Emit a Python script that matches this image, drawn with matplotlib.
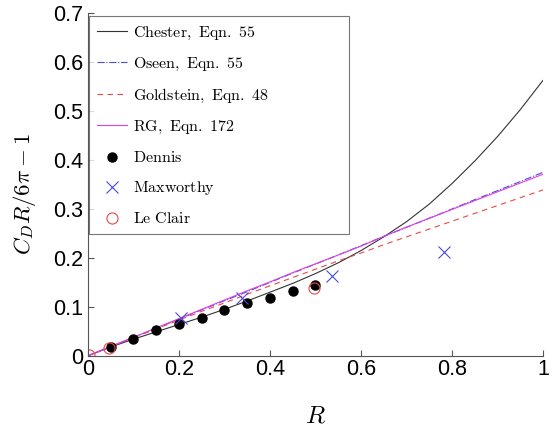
import matplotlib
matplotlib.use('Agg')
import matplotlib.pyplot as plt

plt.rcParams['mathtext.fontset'] = 'cm'
plt.rcParams['font.family'] = ['Liberation Sans', 'DejaVu Sans']

# Theory curves, sampled along R
R_curve = [0.0, 0.05, 0.1, 0.15, 0.2, 0.25, 0.3, 0.35, 0.4, 0.45, 0.5,
           0.55, 0.6, 0.65, 0.7, 0.75, 0.8, 0.85, 0.9, 0.95, 1.0]
chester = [0.0, 0.018, 0.034, 0.049, 0.064, 0.079, 0.095, 0.112, 0.130, 0.148, 0.168,
           0.190, 0.215, 0.243, 0.274, 0.310, 0.352, 0.398, 0.448, 0.503, 0.563]
oseen = [0.0, 0.019, 0.0375, 0.056, 0.075, 0.094, 0.1125, 0.131, 0.150, 0.169, 0.1875,
         0.206, 0.225, 0.244, 0.2625, 0.281, 0.300, 0.319, 0.3375, 0.356, 0.375]
goldstein = [0.0, 0.019, 0.037, 0.055, 0.073, 0.091, 0.108, 0.126, 0.143, 0.160, 0.177,
             0.194, 0.210, 0.227, 0.243, 0.259, 0.275, 0.291, 0.307, 0.323, 0.339]
rg = [0.0, 0.019, 0.038, 0.057, 0.076, 0.095, 0.114, 0.133, 0.151, 0.170, 0.188,
      0.206, 0.224, 0.244, 0.263, 0.281, 0.299, 0.317, 0.335, 0.353, 0.371]

# Measurements
R_dennis = [0.05, 0.1, 0.15, 0.2, 0.25, 0.3, 0.35, 0.4, 0.45, 0.5]
dennis = [0.019, 0.035, 0.052, 0.065, 0.078, 0.094, 0.107, 0.119, 0.133, 0.145]

R_maxworthy = [0.204, 0.338, 0.537, 0.782]
maxworthy = [0.077, 0.118, 0.163, 0.212]

R_leclair = [0.003, 0.047, 0.497]
leclair = [0.001, 0.016, 0.138]

fig = plt.figure(figsize=(5.52, 4.34), dpi=100)
ax = fig.add_axes([0.159, 0.18, 0.825, 0.79])

ax.plot(R_curve, chester, color='#333333', lw=0.8, label=r'$\mathrm{Chester,\ Eqn.\ 55}$')
ax.plot(R_curve, oseen, color='#4a4ae0', lw=0.8, ls='-.', label=r'$\mathrm{Oseen,\ Eqn.\ 55}$')
ax.plot(R_curve, goldstein, color='#e84848', lw=0.8, ls=(0, (5, 4)), label=r'$\mathrm{Goldstein,\ Eqn.\ 48}$')
ax.plot(R_curve, rg, color='#e040e0', lw=0.8, label=r'$\mathrm{RG,\ Eqn.\ 172}$')
ax.plot(R_dennis, dennis, 'o', color='black', ms=6.5, label=r'$\mathrm{Dennis}$')
ax.plot(R_maxworthy, maxworthy, 'x', color='#4a4ae0', ms=9, mew=0.8, label=r'$\mathrm{Maxworthy}$')
ax.plot(R_leclair, leclair, 'o', mfc='none', mec='#e84848', ms=8, mew=0.8, label=r'$\mathrm{Le\ Clair}$')

ax.set_xlim(0, 1)
ax.set_ylim(0, 0.7)
ax.set_xticks([0, 0.2, 0.4, 0.6, 0.8, 1])
ax.set_xticklabels(['0', '0.2', '0.4', '0.6', '0.8', '1'])
ax.set_yticks([0, 0.1, 0.2, 0.3, 0.4, 0.5, 0.6, 0.7])
ax.set_yticklabels(['0', '0.1', '0.2', '0.3', '0.4', '0.5', '0.6', '0.7'])
ax.tick_params(direction='in', length=4, width=0.8, color='#555555', labelsize=15.5)
ax.tick_params(axis='x', pad=2)
ax.tick_params(axis='y', pad=3)

for side in ['top', 'right']:
    ax.spines[side].set_visible(False)
for side in ['left', 'bottom']:
    ax.spines[side].set_color('#555555')
    ax.spines[side].set_linewidth(0.8)

ax.set_xlabel(r'$R$', fontsize=18, labelpad=17)
ax.set_ylabel(r'$C_D R/6\pi - 1$', fontsize=16.5)
ax.yaxis.set_label_coords(-0.11, 0.472)

leg = ax.legend(loc='upper left', bbox_to_anchor=(0.002, 0.99, 0.572, 0.0), mode='expand',
                fontsize=11.5, frameon=True, fancybox=False, borderpad=0.5,
                labelspacing=0.88, handlelength=1.9, handletextpad=0.4, borderaxespad=0)
leg.get_frame().set_edgecolor('#555555')
leg.get_frame().set_linewidth(0.8)

fig.savefig('out.png', dpi=100)
